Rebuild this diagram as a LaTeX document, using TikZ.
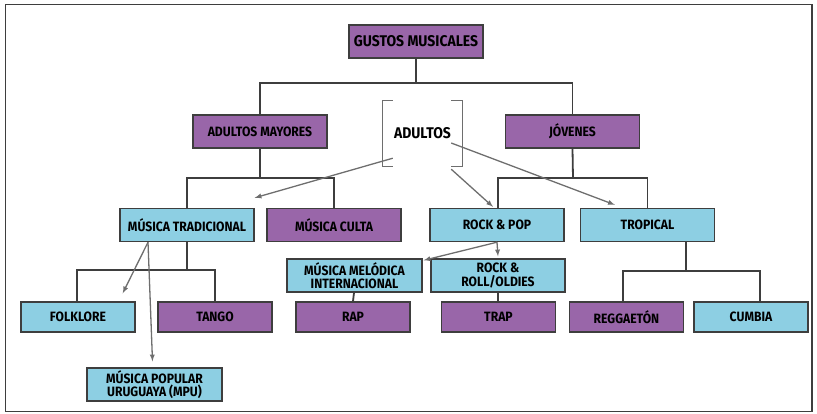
\documentclass[tikz,border=0pt]{standalone}
\usepackage{fontspec}
\setmainfont{Fira Sans}[FakeStretch=0.9]
\usetikzlibrary{arrows,calc,positioning}
\definecolor{GMPurple}{HTML}{9966A9}
\definecolor{GMSky}{HTML}{8DCFE3}
\definecolor{GMLine}{HTML}{3E3E3E}
\definecolor{GMArrow}{HTML}{6E6E6E}
\tikzset{
    boxp/.style = {draw=GMLine, fill=GMPurple, line width=1.4pt,
        minimum height=33pt,
        minimum width=134pt, inner sep=0pt, align=center,
        font=\bfseries\fontsize{13.5}{13.5}\selectfont},
    boxb/.style = {boxp, fill=GMSky},
    leaf/.style = {minimum width=114pt, minimum height=30pt},
    tree/.style = {draw=GMLine, line width=1.8pt},
    ref/.style = {draw=GMArrow, line width=1.3pt, -latex},
    bracket/.style = {draw=GMArrow, line width=1.3pt}
}

\begin{document}
\begin{tikzpicture}[x=1pt,y=-1pt]
            \useasboundingbox (0,0) rectangle (817,413);
            \draw[GMLine,line width=1.5pt] (5.5,4.5) rectangle (812,411.5);
                \coordinate (s0) at (416,83);
                \coordinate (s1) at (260,178);
                \coordinate (s2) at (573,178);
                \coordinate (s3) at (187,270);
                \coordinate (s4) at (686,271);
        \node [boxp, font=\bfseries\fontsize{15.5}{15.5}\selectfont] (gustos) at (416,41.5) {GUSTOS MUSICALES};
        \node [boxp] (mayores) at (260,131.5) {ADULTOS MAYORES};
        \node [boxp] (jovenes) at (572.5,131.5) {JÓVENES};
        \node [minimum width=79pt, minimum height=65pt, inner sep=0pt,
            font=\bfseries\fontsize{15.5}{15.5}\selectfont] (adultos) at (422.5,133.5) {ADULTOS};
        \node [boxb] (tradicional) at (187,225) {MÚSICA TRADICIONAL};
        \node [boxp] (culta) at (334,225) {MÚSICA CULTA};
        \node [boxb] (rockpop) at (497,225) {ROCK \& POP};
        \node [boxb] (tropical) at (647.5,225) {TROPICAL};
        \node [boxb, minimum width=135pt] (melodica) at (354.5,275.5) {MÚSICA MELÓDICA\\INTERNACIONAL};
        \node [boxb] (oldies) at (498,275.5) {ROCK \&\\ROLL/OLDIES};
        \node [boxb, leaf] (folklore) at (78,317) {FOLKLORE};
        \node [boxp, leaf] (tango) at (215,317) {TANGO};
        \node [boxp, leaf] (rap) at (353,317) {RAP};
        \node [boxp, leaf] (trap) at (498.5,317) {TRAP};
        \node [boxp, leaf] (reggaeton) at (626.5,317) {REGGAETÓN};
        \node [boxb, leaf] (cumbia) at (751,317) {CUMBIA};
        \node [boxb, minimum width=135pt] (mpu) at (154.5,384.5) {MÚSICA POPULAR\\URUGUAYA (MPU)};
                \draw [tree] (gustos.south) -- (s0);
                \draw [tree] (mayores.north) |- (s0) -| (jovenes.north);
                \draw [tree] (mayores.south) -- (s1);
                \draw [tree] (tradicional.north) |- (s1) -| (culta.north);
                \draw [tree] (jovenes.south) -- (s2);
                \draw [tree] ([xshift=1pt]rockpop.north) |- (s2) -| (tropical.north);
                \draw [tree] (tradicional.south) -- (s3);
                \draw [tree] ([xshift=-1pt]folklore.north) |- (s3) -| (tango.north);
                \draw [tree] ([xshift=38.5pt]tropical.south) -- (s4);
                \draw [tree] ([xshift=-3.5pt]reggaeton.north) |- (s4) -| ([xshift=9pt]cumbia.north);
                \draw [tree] ([xshift=-0.5pt]melodica.south) -- (rap.north);
                \draw [tree] (oldies.south) -- ([xshift=-0.5pt]trap.north);
            \draw [bracket] ([xshift=10pt]adultos.north west) -- (adultos.north west) -- (adultos.south west) -- ++(10pt,0);
            \draw [bracket] ([xshift=-11pt]adultos.north east) -- (adultos.north east) -- (adultos.south east) -- ++(-11pt,0);
        \draw [ref] ([shift={(10pt,8pt)}]adultos.south west) -- ([yshift=10pt]tradicional.north east);
        \draw [ref] ([shift={(-11pt,-3pt)}]adultos.south east) -- ([shift={(-4pt,1pt)}]rockpop.north);
        \draw [ref] ([shift={(-11pt,-9.5pt)}]adultos.east) -- ([shift={(35pt,3pt)}]tropical.north west);
        \draw [ref] ([xshift=-39pt]tradicional.south) -- ([shift={(-13pt,8pt)}]folklore.north east);
        \draw [ref] ([xshift=-39pt]tradicional.south) -- ([shift={(-2pt,6pt)}]mpu.north);
        \draw [ref] (rockpop.south) -- ([yshift=2pt]oldies.north);
        \draw [ref] (rockpop.south) -- ([shift={(1pt,-2pt)}]melodica.north east);
\end{tikzpicture}
\end{document}
